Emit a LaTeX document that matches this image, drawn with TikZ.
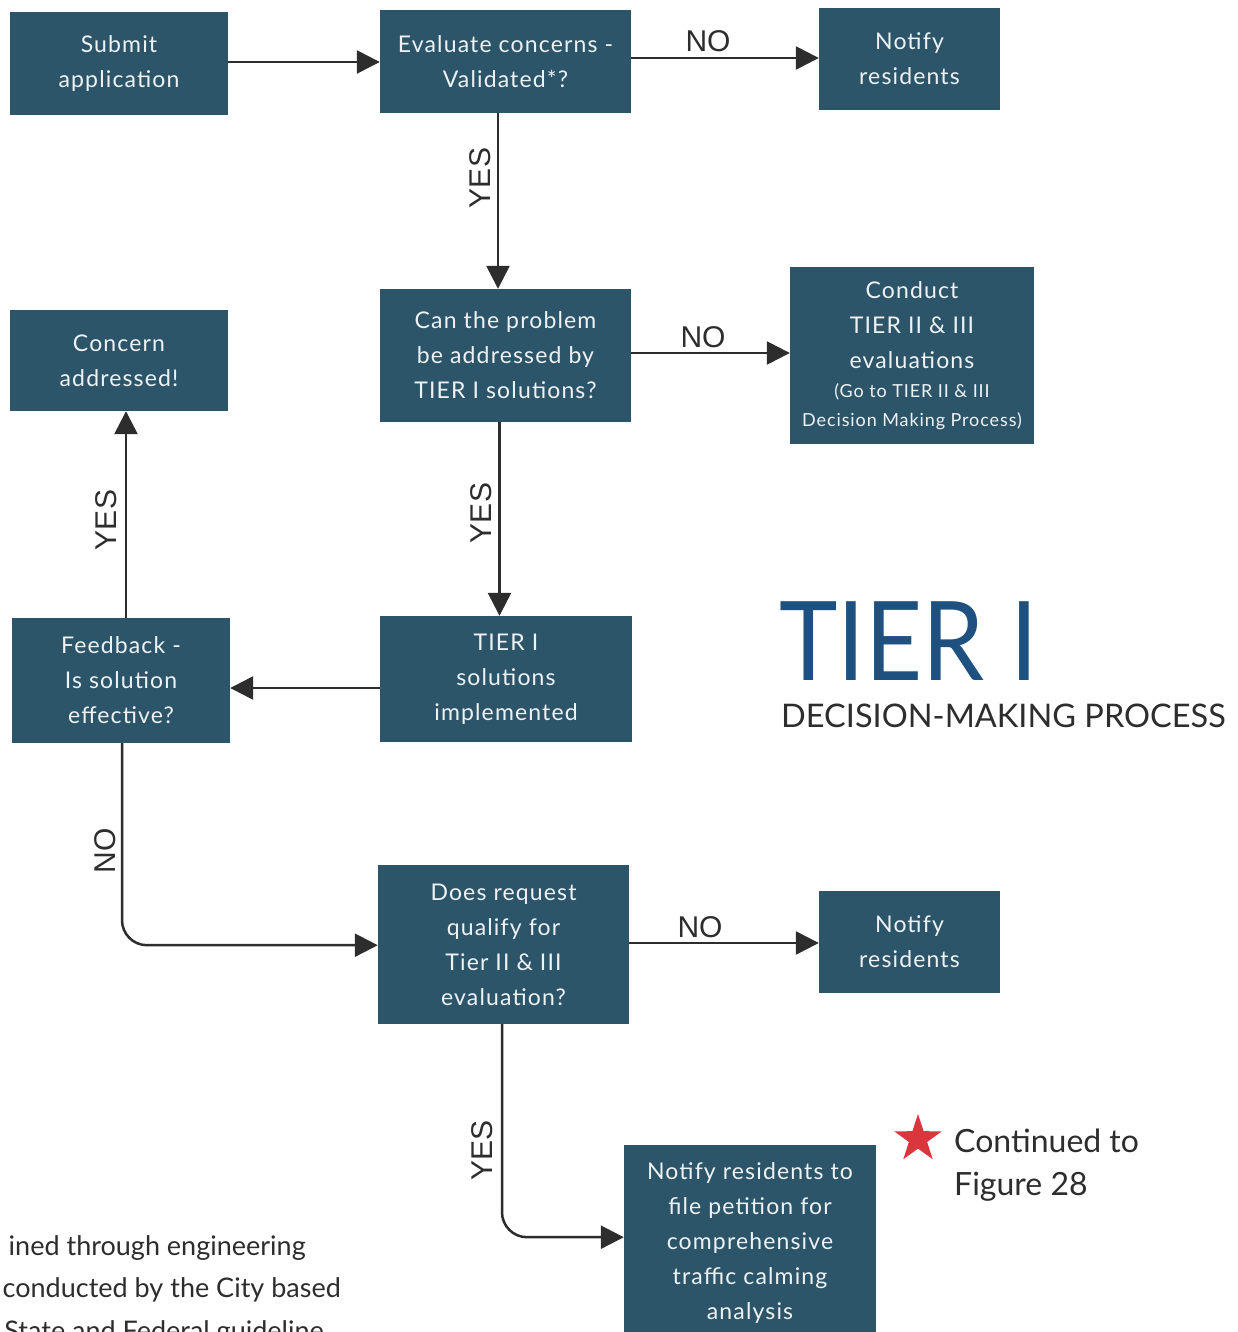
\documentclass[tikz,border=0pt]{standalone}
\usepackage{fontspec}
\setmainfont{Lato}
\newfontfamily\boxfont[LetterSpace=5]{Lato}
\newfontfamily\labelfont{Liberation Sans}
\usetikzlibrary{arrows.meta,shapes.geometric}
\definecolor{boxfill}{RGB}{44,85,105}
\definecolor{boxtext}{RGB}{238,242,244}
\definecolor{linegray}{RGB}{45,45,45}
\definecolor{tierblue}{RGB}{30,80,128}
\definecolor{starred}{RGB}{217,54,62}
\tikzset{
  stepbox/.style={draw=none, fill=boxfill, text=boxtext, align=center, inner sep=0pt,
    font=\boxfont\fontsize{23}{35}\selectfont},
  flow/.style={draw=linegray, line width=2.5pt, -{Triangle[length=23pt,width=23pt]}},
  lbl/.style={text=linegray, font=\labelfont\fontsize{30}{30}\selectfont, inner sep=0pt},
  plain/.style={inner sep=0pt, text=linegray},
}
\begin{document}
\begin{tikzpicture}[x=1pt,y=-1pt]
\useasboundingbox (0,0) rectangle (1237,1332);
\clip (0,0) rectangle (1237,1332);
\fill[white] (0,0) rectangle (1237,1332);

\node[stepbox, minimum width=218pt, minimum height=103pt] (submit) at (119,63.5) {Submit\\application};
\node[stepbox, minimum width=251pt, minimum height=103pt] (eval) at (505.5,61.5) {Evaluate concerns -\\Validated*?};
\node[stepbox, minimum width=181pt, minimum height=102pt] (notifyA) at (909.5,59) {Notify\\residents};
\node[stepbox, minimum width=251pt, minimum height=133pt] (can) at (505.5,355.5) {Can the problem\\be addressed by\\TIER I solutions?};
\node[stepbox, minimum width=244pt, minimum height=177pt] (conduct) at (912,355.5) {Conduct\\TIER II \& III\\evaluations\\[-6pt]{\fontsize{18}{29}\selectfont(Go to TIER II \& III}\\[-6pt]{\fontsize{18}{29}\selectfont Decision Making Process)}};
\node[stepbox, minimum width=218pt, minimum height=101pt] (addressed) at (119,360.5) {Concern\\addressed!};
\node[stepbox, minimum width=218pt, minimum height=125pt] (feedback) at (121,680.5) {Feedback -\\Is solution\\effective?};
\node[stepbox, minimum width=252pt, minimum height=126pt] (impl) at (506,679) {TIER I\\solutions\\implemented};
\node[stepbox, minimum width=251pt, minimum height=159pt] (does) at (503.5,944.5) {Does request\\qualify for\\Tier II \& III\\evaluation?};
\node[stepbox, minimum width=181pt, minimum height=102pt] (notifyB) at (909.5,942) {Notify\\residents};
\node[stepbox, minimum width=252pt, minimum height=196pt] (petition) at (750,1243) {Notify residents to\\file petition for\\comprehensive\\traffic calming\\analysis};

% connectors
\draw[flow] (submit.east) ++(0,-1.5) coordinate (c1) -- (c1 -| eval.west);
\draw[flow] (eval.east) ++(0,-3.5) coordinate (c2) -- (c2 -| notifyA.west);
\draw[flow] (eval.south) ++(-7.5,0) coordinate (c3) -- (c3 |- can.north);
\draw[flow] (can.east) ++(0,-2.5) coordinate (c4) -- (c4 -| conduct.west);
\draw[flow] (can.south) ++(-6,0) coordinate (c5) -- (c5 |- impl.north);
\draw[flow] (impl.west) ++(0,9) coordinate (c6) -- (c6 -| feedback.east);
\draw[flow] (feedback.north) ++(5,0) coordinate (c7) -- (c7 |- addressed.south);
\draw[flow, rounded corners=25pt] (feedback.south) ++(1,0) -- ++(0,202) coordinate (c8) -- (c8 -| does.west);
\draw[flow] (does.east) ++(0,-1.5) coordinate (c9) -- (c9 -| notifyB.west);
\draw[flow, rounded corners=25pt] (does.south) ++(-1.5,0) -- ++(0,213) coordinate (c10) -- (c10 -| petition.west);

% labels
\node[lbl] (no1) at (708,41) {NO};
\node[lbl] (no2) at (703,337) {NO};
\node[lbl, rotate=90] (no3) at (105,851) {NO};
\node[lbl] (no4) at (700,927) {NO};
\node[lbl, rotate=90] (yes1) at (480,178) {YES};
\node[lbl, rotate=90] (yes2) at (481,513) {YES};
\node[lbl, rotate=90] (yes3) at (106,520) {YES};
\node[lbl, rotate=90] (yes4) at (482,1150) {YES};

% title
\node[anchor=base west, inner sep=0pt, text=tierblue, font=\fontsize{110}{110}\selectfont] (tier) at (779,680) {\scalebox{0.9}[1]{TIER I}};
\node[plain, anchor=base west, font=\fontsize{32.5}{32.5}\selectfont] (dmp) at (781,727) {DECISION-MAKING PROCESS};

% continued note
\node[star, star points=5, star point ratio=2.6, fill=starred, draw=none, minimum size=50pt, inner sep=0pt] (star) at (918,1139) {};
\node[plain, anchor=base west, font=\fontsize{32}{32}\selectfont] (cont1) at (954,1152) {Continued to};
\node[plain, anchor=base west, font=\fontsize{32}{32}\selectfont] (cont2) at (954,1195) {Figure 28};

% footnote (cut off by the page edge)
\node[plain, anchor=base east, font=\fontsize{27}{27}\selectfont] (fn1) at (306,1255) {ined through engineering};
\node[plain, anchor=base east, font=\fontsize{27}{27}\selectfont] (fn2) at (341,1297) {conducted by the City based};
\node[plain, anchor=base east, font=\fontsize{27}{27}\selectfont] (fn3) at (324,1340) {State and Federal guideline};
\end{tikzpicture}
\end{document}
